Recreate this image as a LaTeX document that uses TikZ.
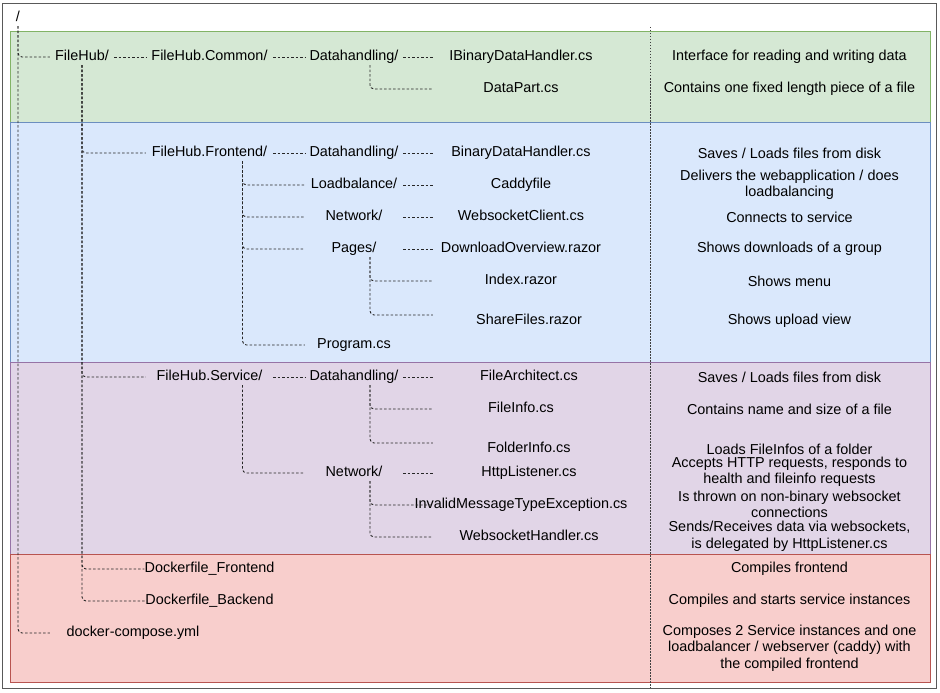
\documentclass[tikz,border=0pt]{standalone}
\usepackage{fontspec}
\setmainfont{Liberation Sans}
\definecolor{cmnfill}{HTML}{D5E8D4}\definecolor{cmnline}{HTML}{82B366}
\definecolor{frtfill}{HTML}{DAE8FC}\definecolor{frtline}{HTML}{6C8EBF}
\definecolor{srvfill}{HTML}{E1D5E7}\definecolor{srvline}{HTML}{9673A6}
\definecolor{dckfill}{HTML}{F8CECC}\definecolor{dckline}{HTML}{B85450}

\begin{document}
\begin{tikzpicture}[x=1pt,y=-1pt,font=\fontsize{14.4}{16.5}\selectfont,
  every node/.append style={yshift=-2pt},
  tree/.style={draw=black!85,line width=.9pt,dash pattern=on 2.5pt off 2pt,rounded corners=4pt},
  lbl/.style={inner sep=0pt,minimum height=16pt,text height=10.5pt,text depth=3pt},
  top/.style={lbl,minimum width=64pt},
  proj/.style={lbl,minimum width=127pt},
  dir/.style={lbl,minimum width=98pt},
  file/.style={lbl,minimum width=176pt},
  filew/.style={lbl,minimum width=192pt},
  desc/.style={align=center,inner sep=0pt},
  band/.style 2 args={draw=#1,fill=#2,line width=.8pt}]
  \useasboundingbox (0,0) rectangle (940,693);
  \fill[white] (0,0) rectangle (940,693);
  \draw[black!65,line width=1pt] (2.5,3.5) rectangle (936.5,688.5);
  % 四个区块
  \draw[band={cmnline}{cmnfill}] (10,31) rectangle (930,122);
  \draw[band={frtline}{frtfill}] (10,122) rectangle (930,362);
  \draw[band={srvline}{srvfill}] (10,362) rectangle (930,554);
  \draw[band={dckline}{dckfill}] (10,554) rectangle (930,682);
  \draw[black!75,line width=.8pt,dash pattern=on 1.5pt off 1.5pt] (650,27) -- (650,688);
  % 目录树
  \node[lbl] (root) at (18,16) {/};
  \node[top] (fh) at (82,55) {FileHub/};
  \node[proj] (common) at (209.5,55) {FileHub.Common/};
  \node[dir] (dhc) at (354,55) {Datahandling/};
  \node[file] (ibdh) at (521,55) {IBinaryDataHandler.cs};
  \node[file] (dpart) at (521,87) {DataPart.cs};
  \node[proj] (front) at (209.5,151) {FileHub.Frontend/};
  \node[dir] (dhf) at (354,151) {Datahandling/};
  \node[file] (bdh) at (521,151) {BinaryDataHandler.cs};
  \node[dir] (lb) at (354,183) {Loadbalance/};
  \node[file] (caddy) at (521,183) {Caddyfile};
  \node[dir] (netf) at (354,215) {Network/};
  \node[file] (wsc) at (521,215) {WebsocketClient.cs};
  \node[dir] (pages) at (354,247) {Pages/};
  \node[file] (dlo) at (521,247) {DownloadOverview.razor};
  \node[file] (idx) at (521,279) {Index.razor};
  \node[filew] (share) at (529,319) {ShareFiles.razor};
  \node[dir] (prog) at (354,343) {Program.cs};
  \node[proj] (service) at (209.5,375) {FileHub.Service/};
  \node[dir] (dhs) at (354,375) {Datahandling/};
  \node[filew] (farch) at (529,375) {FileArchitect.cs};
  \node[file] (finfo) at (521,407) {FileInfo.cs};
  \node[filew] (folder) at (529,447) {FolderInfo.cs};
  \node[dir] (nets) at (354,471) {Network/};
  \node[filew] (http) at (529,471) {HttpListener.cs};
  \node[file] (imte) at (521,503) {\makebox[176pt]{InvalidMessageTypeException.cs}};
  \node[filew] (wsh) at (529,535) {WebsocketHandler.cs};
  \node[proj] (dfront) at (209.5,567) {Dockerfile\_Frontend};
  \node[proj] (dback) at (209.5,599) {Dockerfile\_Backend};
  \node[lbl,minimum width=166pt] (compose) at (133,631) {docker-compose.yml};

  \draw[tree] (root.south) |- (fh.west);
  \draw[tree] (root.south) |- (compose.west);
  \draw[tree] (fh.east) -- (common.west);
  \foreach \n in {front,service,dfront,dback}
    \draw[tree] (fh.south) |- (\n.west);
  \draw[tree] (common.east) -- (dhc.west);
  \draw[tree] (dhc.east) -- (ibdh.west);
  \draw[tree] ([xshift=16pt]dhc.south) |- (dpart.west);
  \draw[tree] (front.east) -- (dhf.west);
  \draw[tree] (dhf.east) -- (bdh.west);
  \foreach \n in {lb,netf,pages,prog}
    \draw[tree] ([xshift=33pt]front.south) |- (\n.west);
  \draw[tree] (lb.east) -- (caddy.west);
  \draw[tree] (netf.east) -- (wsc.west);
  \draw[tree] (pages.east) -- (dlo.west);
  \draw[tree] ([xshift=16pt]pages.south) |- (idx.west);
  \draw[tree] ([xshift=16pt]pages.south) |- ([yshift=6pt]share.west);
  \draw[tree] (service.east) -- (dhs.west);
  \draw[tree] (dhs.east) -- (farch.west);
  \draw[tree] ([xshift=16pt]dhs.south) |- (finfo.west);
  \draw[tree] ([xshift=16pt]dhs.south) |- ([yshift=6pt]folder.west);
  \draw[tree] ([xshift=33pt]service.south) |- (nets.west);
  \draw[tree] (nets.east) -- (http.west);
  \draw[tree] ([xshift=16pt]nets.south) |- (imte.west);
  \draw[tree] ([xshift=16pt]nets.south) |- (wsh.west);
  % 说明
  \node[desc] (dibdh) at (789.5,55) {Interface for reading and writing data};
  \node[desc] (ddpart) at (789.5,87) {Contains one fixed length piece of a file};
  \node[desc] (dbdh) at (789.5,151) {Saves / Loads files from disk};
  \node[desc] (dcaddy) at (789.5,183) {Delivers the webapplication / does\\loadbalancing};
  \node[desc] (dwsc) at (789.5,215) {Connects to service};
  \node[desc] (ddlo) at (789.5,247) {Shows downloads of a group};
  \node[desc] (didx) at (789.5,279) {Shows menu};
  \node[desc] (dshare) at (789.5,319) {Shows upload view};
  \node[desc] (dfarch) at (789.5,375) {Saves / Loads files from disk};
  \node[desc] (dfinfo) at (789.5,407) {Contains name and size of a file};
  \node[desc] (dfolder) at (789.5,447) {Loads FileInfos of a folder};
  \node[desc] (dhttp) at (789.5,470) {Accepts HTTP requests, responds to\\health and fileinfo requests};
  \node[desc] (dimte) at (789.5,502.5) {Is thrown on non-binary websocket\\connections};
  \node[desc] (dwsh) at (789.5,534.5) {Sends/Receives data via websockets,\\is delegated by HttpListener.cs};
  \node[desc] (ddfront) at (789.5,567) {Compiles frontend};
  \node[desc] (ddback) at (789.5,599) {Compiles and starts service instances};
  \node[desc] (dcompose) at (789.5,646) {Composes 2 Service instances and one\\loadbalancer / webserver (caddy) with\\the compiled frontend};
\end{tikzpicture}
\end{document}
